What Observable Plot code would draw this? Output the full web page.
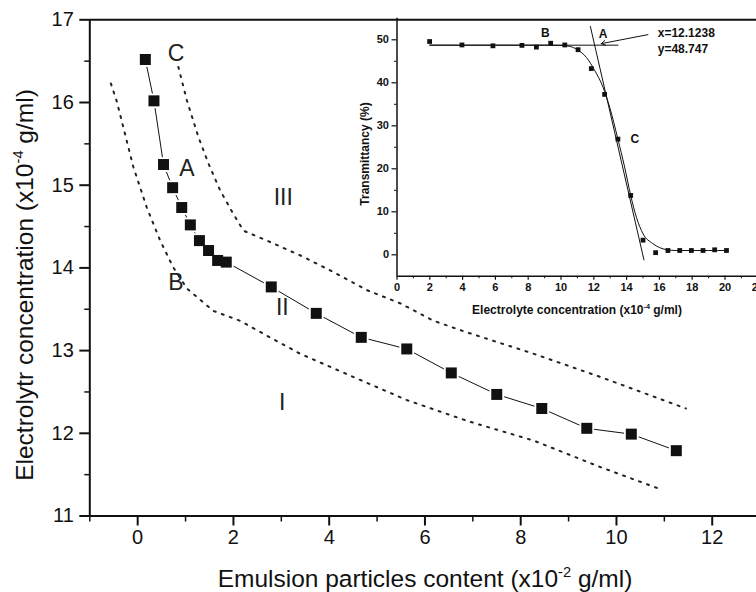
<!DOCTYPE html>
<html><head><meta charset="utf-8">
<script src="https://cdn.jsdelivr.net/npm/d3@7"></script>
<script src="https://cdn.jsdelivr.net/npm/@observablehq/plot@0.6"></script>
<style>body{margin:0;background:#fff}#chart{width:756px;height:592px}</style>
</head><body><div id="chart"></div>
<script>
// ---- main chart data ----
const emulsion = [0.16,0.34,0.54,0.73,0.92,1.10,1.29,1.48,1.67,1.85,2.79,3.73,4.67,5.62,6.55,7.50,8.44,9.38,10.31,11.25];
const electrolyte = [16.52,16.02,15.25,14.97,14.73,14.52,14.33,14.21,14.09,14.07,13.77,13.45,13.16,13.02,12.73,12.47,12.30,12.06,11.99,11.79];
const upperX = [0.85,1.03,1.27,1.48,1.72,2.00,2.21,2.70,3.40,4.09,4.79,5.49,6.18,6.88,8.28,9.67,11.45];
const upperY = [16.43,16.02,15.58,15.26,14.94,14.65,14.45,14.33,14.15,13.95,13.73,13.57,13.36,13.22,12.96,12.68,12.30];
const lowerX = [-0.56,-0.44,-0.30,-0.09,0.19,0.47,0.74,1.03,1.58,2.14,2.70,3.40,4.51,5.63,6.88,8.28,9.67,10.89];
const lowerY = [16.23,16.02,15.70,15.22,14.73,14.33,14.01,13.75,13.48,13.36,13.18,12.96,12.68,12.40,12.15,11.91,11.59,11.33];
const regionText = ["C","A","III","B","II","I"];
const regionX = [0.80,1.03,3.04,0.80,3.02,3.02];
const regionY = [16.59,15.20,14.85,13.82,13.52,12.37];
const mainXTicks = [0,2,4,6,8,10,12];
const mainXMinor = [-1,1,3,5,7,9,11,13];
const mainYTicks = [11,12,13,14,15,16,17];
const mainYMinor = [11.5,12.5,13.5,14.5,15.5,16.5];

// ---- inset data ----
const insetConc = [1.99,3.96,5.85,7.62,8.50,9.37,10.23,11.04,11.85,12.66,13.47,14.25,15.00,15.77,16.52,17.24,17.95,18.66,19.37,20.09];
const insetTrans = [49.6,48.8,48.6,48.7,48.3,49.2,48.8,47.7,43.3,37.3,26.9,13.8,3.4,0.5,1.0,1.0,1.0,1.0,1.16,1.0];
const fitX = [2,4,6,8,9,10,10.5,11,11.55,12.05,12.56,12.97,13.47,13.88,14.25,14.6,15.0,15.6,16.43,17,18,19,20.1];
const fitY = [48.75,48.75,48.75,48.75,48.75,48.7,48.5,47.7,45.9,42.9,39.0,34.3,26.9,20.4,13.8,8.7,4.9,2.6,1.2,1.0,1.0,1.0,1.0];
const tanFlatX = [2,13.47], tanFlatY = [48.75,48.75];
const tanSteepX = [11.79,15.06], tanSteepY = [53.1,-1.2];
const insetText = ["B","A","C"];
const insetTextX = [9.05,12.56,14.5];
const insetTextY = [51.5,51.2,27];
const readout = ["x=12.1238","y=48.747"];
const readoutX = [15.9,15.9];
const readoutY = [51.5,47.9];
const arrowFrom = [15.3,51.2], arrowTo = [12.45,49.1];
const insetXTicks = [0,2,4,6,8,10,12,14,16,18,20,22];
const insetXMinor = [1,3,5,7,9,11,13,15,17,19,21];
const insetYTicks = [0,10,20,30,40,50];
const insetYMinor = [5,15,25,35,45];

const font = "'Liberation Sans', Arial, Helvetica, sans-serif";
const ink = "#111";
const pts = emulsion.map((x,i)=>({x, y: electrolyte[i]}));
const upper = upperX.map((x,i)=>({x, y: upperY[i]}));
const lower = lowerX.map((x,i)=>({x, y: lowerY[i]}));
const regions = regionText.map((t,i)=>({t, x: regionX[i], y: regionY[i]}));

const main = Plot.plot({
  width: 756, height: 592,
  marginLeft: 89.3, marginTop: 19.3, marginBottom: 76.5, marginRight: 0,
  style: {fontFamily: font, background: "white", overflow: "hidden", color: ink},
  x: {domain: [-1, 13], range: [89.3, 759.6]},
  y: {domain: [11, 17], range: [515.5, 19.3]},
  marks: [
    Plot.line(upper, {x: "x", y: "y", stroke: "#222", strokeWidth: 2, strokeDasharray: "2,6.5"}),
    Plot.line(lower, {x: "x", y: "y", stroke: "#222", strokeWidth: 2, strokeDasharray: "2,6.5"}),
    Plot.line(pts, {x: "x", y: "y", stroke: ink, strokeWidth: 1}),
    Plot.dot(pts, {x: "x", y: "y", symbol: "square", r: 8.3, fill: "white"}),
    Plot.dot(pts, {x: "x", y: "y", symbol: "square", r: 6.2, fill: ink}),
    Plot.text(regions, {x: "x", y: "y", text: "t", fontSize: 23, fill: "#222"}),
    Plot.ruleX([-1], {stroke: ink, strokeWidth: 2}),
    Plot.ruleY([11, 17], {stroke: ink, strokeWidth: 2}),
    Plot.axisY(mainYTicks, {anchor: "left", label: null, tickSize: 10, tickPadding: 6, fontSize: 20, strokeWidth: 2, tickFormat: d => d}),
    Plot.axisY(mainYMinor, {anchor: "left", label: null, tickSize: 5, strokeWidth: 1.5, tickFormat: () => ""}),
    Plot.axisX(mainXTicks, {anchor: "bottom", label: null, tickSize: 10, tickPadding: 4, fontSize: 20, strokeWidth: 2, tickFormat: d => d}),
    Plot.axisX(mainXMinor, {anchor: "bottom", label: null, tickSize: 6, strokeWidth: 1.5, tickFormat: () => ""})
  ]
});

const sel = d3.select(main);
function supLabel(g, parts, size) {
  const t = g.append("text").attr("font-size", size).attr("fill", ink).attr("text-anchor", "middle").attr("font-family", font);
  t.append("tspan").text(parts[0]);
  t.append("tspan").attr("dy", -size*0.42).attr("font-size", size*0.6).text(parts[1]);
  t.append("tspan").attr("dy", size*0.42).text(parts[2]);
  return t;
}
supLabel(sel, ["Electrolytr concentration (x10", "-4", " g/ml)"], 24.5)
  .attr("transform", "translate(33,285) rotate(-90)");
supLabel(sel, ["Emulsion particles content (x10", "-2", " g/ml)"], 24.5)
  .attr("transform", "translate(425,587)");

// ---- inset (same page frame as the main chart, transparent) ----
const ipts = insetConc.map((x,i)=>({x, y: insetTrans[i]}));
const fit = fitX.map((x,i)=>({x, y: fitY[i]}));
const iText = insetText.map((t,i)=>({t, x: insetTextX[i], y: insetTextY[i]}));
const rText = readout.map((t,i)=>({t, x: readoutX[i], y: readoutY[i]}));

const inset = Plot.plot({
  width: 756, height: 592,
  marginLeft: 396.5, marginTop: 17.8, marginBottom: 316.2, marginRight: 0,
  style: {fontFamily: font, background: "transparent", overflow: "hidden", color: ink},
  x: {domain: [0, 22], range: [396.5, 757.3]},
  y: {domain: [-5, 55], range: [275.8, 17.8]},
  marks: [
    Plot.ruleX([0], {stroke: ink, strokeWidth: 1.5}),
    Plot.ruleY([-5], {stroke: ink, strokeWidth: 1.5}),
    Plot.axisY(insetYTicks, {anchor: "left", label: null, tickSize: 5, tickPadding: 3, fontSize: 11, fontWeight: "bold", strokeWidth: 1.2, tickFormat: d => d}),
    Plot.axisY(insetYMinor, {anchor: "left", label: null, tickSize: 2.5, strokeWidth: 1, tickFormat: () => ""}),
    Plot.axisX(insetXTicks, {anchor: "bottom", label: null, tickSize: 4, tickPadding: 3, fontSize: 11, fontWeight: "bold", strokeWidth: 1.2, tickFormat: d => d}),
    Plot.axisX(insetXMinor, {anchor: "bottom", label: null, tickSize: 2.5, strokeWidth: 1, tickFormat: () => ""}),
    Plot.line(tanFlatX.map((x,i)=>({x, y: tanFlatY[i]})), {x: "x", y: "y", stroke: ink, strokeWidth: 1}),
    Plot.line(tanSteepX.map((x,i)=>({x, y: tanSteepY[i]})), {x: "x", y: "y", stroke: ink, strokeWidth: 1}),
    Plot.line(fit, {x: "x", y: "y", stroke: ink, strokeWidth: 1, curve: "monotone-x"}),
    Plot.dot(ipts, {x: "x", y: "y", symbol: "square", r: 2.7, fill: ink}),
    Plot.arrow([{x1: arrowFrom[0], y1: arrowFrom[1], x2: arrowTo[0], y2: arrowTo[1]}], {x1: "x1", y1: "y1", x2: "x2", y2: "y2", stroke: ink, strokeWidth: 1, headLength: 7}),
    Plot.text(iText, {x: "x", y: "y", text: "t", fontSize: 12, fontWeight: "bold", fill: ink}),
    Plot.text(rText, {x: "x", y: "y", text: "t", fontSize: 12, fontWeight: "bold", fill: ink, textAnchor: "start"})
  ]
});
const isel = d3.select(inset);
isel.append("text").attr("font-size", 12).attr("font-weight", "bold").attr("fill", ink).attr("text-anchor", "middle")
  .attr("font-family", font).attr("transform", "translate(369,154) rotate(-90)").text("Transmittancy (%)");
supLabel(isel, ["Electrolyte concentration (x10", "-4", " g/ml)"], 12)
  .attr("font-weight", "bold").attr("transform", "translate(577,314)");
inset.setAttribute("x", 0);
inset.setAttribute("y", 0);
main.appendChild(inset);
document.getElementById("chart").appendChild(main);
</script>
</body></html>
